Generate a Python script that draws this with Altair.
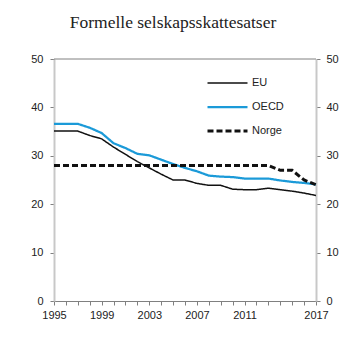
import altair as alt
import pandas as pd

years = list(range(1995, 2018))
eu = [35.1, 35.1, 35.1, 34.2, 33.5, 31.8, 30.3, 28.8, 27.5, 26.2, 25.0, 25.0,
      24.3, 23.9, 23.9, 23.1, 23.0, 23.0, 23.3, 23.0, 22.7, 22.3, 21.8]
oecd = [36.6, 36.6, 36.6, 35.8, 34.7, 32.6, 31.6, 30.4, 30.1, 29.2, 28.3, 27.5,
        26.8, 25.9, 25.7, 25.6, 25.3, 25.3, 25.3, 24.9, 24.6, 24.4, 24.1]
norge = [28, 28, 28, 28, 28, 28, 28, 28, 28, 28, 28, 28,
         28, 28, 28, 28, 28, 28, 28, 27, 27, 25, 24]
series = ["EU", "OECD", "Norge"]
label_years = [1995, 1999, 2003, 2007, 2011, 2017]
y_ticks = [0, 10, 20, 30, 40, 50]

rows = []
for name, vals in zip(series, [eu, oecd, norge]):
    for yr, v in zip(years, vals):
        rows.append({"year": yr, "value": v, "series": name})
df = pd.DataFrame(rows)

FONT = "Liberation Sans"
yscale = alt.Scale(domain=[0, 50], nice=False)
xscale = alt.Scale(domain=[1995, 2017], nice=False)
label_expr = ("indexof([" + ",".join(str(y) for y in label_years) +
              "], datum.value) >= 0 ? datum.value : ''")

lines = alt.Chart(df).mark_line().encode(
    x=alt.X("year:Q", scale=xscale,
            axis=alt.Axis(values=years, labelExpr=label_expr,
                          format="d", title=None, grid=False,
                          domainColor="#808080", domainWidth=1,
                          tickColor="#808080", tickSize=4, labelPadding=4,
                          labelFont=FONT, labelFontSize=11, labelColor="#222222",
                          labelOverlap=False, labelFlush=False)),
    y=alt.Y("value:Q", scale=yscale,
            axis=alt.Axis(values=y_ticks, title=None, grid=False, orient="left",
                          domainColor="#c8c8c8", domainWidth=2,
                          tickColor="#808080", tickSize=4, labelPadding=7,
                          labelFont=FONT, labelFontSize=11, labelColor="#222222")),
    color=alt.Color("series:N",
                    scale=alt.Scale(domain=series, range=["#111111", "#1b9ad8", "#111111"]),
                    legend=alt.Legend(title=None, orient="none", legendX=152, legendY=17,
                                      symbolType="stroke", symbolSize=1600,
                                      labelFont=FONT, labelFontSize=11, labelColor="#222222",
                                      labelOffset=3, clipHeight=14, rowPadding=10)),
    strokeDash=alt.StrokeDash("series:N",
                              scale=alt.Scale(domain=series, range=[[1, 0], [1, 0], [6, 3]])),
    strokeWidth=alt.StrokeWidth("series:N",
                                scale=alt.Scale(domain=series, range=[1.5, 3, 2])),
    order=alt.Order("year:Q"),
)

top = alt.Chart(pd.DataFrame({"y": [50]})).mark_rule(color="#808080", strokeWidth=1).encode(
    y=alt.Y("y:Q", scale=yscale,
            axis=alt.Axis(values=y_ticks, title=None, grid=False, orient="right",
                          domainColor="#c8c8c8", domainWidth=2,
                          tickColor="#808080", tickSize=4, labelPadding=6,
                          labelFont=FONT, labelFontSize=11, labelColor="#222222")),
)

chart = alt.layer(lines, top).resolve_axis(y="independent").properties(
    width=262, height=242,
    autosize=alt.AutoSizeParams(type="none"),
    padding={"left": 54, "top": 59, "right": 37, "bottom": 52},
    title=alt.TitleParams("Formelle selskapsskattesatser", font="Liberation Serif",
                          fontSize=17.5, fontWeight="normal", color="#222222",
                          anchor="middle", frame="group", dx=-12, offset=22),
).configure_view(stroke=None)

chart.save("out.html", embed_options={"renderer": "svg", "actions": False})
